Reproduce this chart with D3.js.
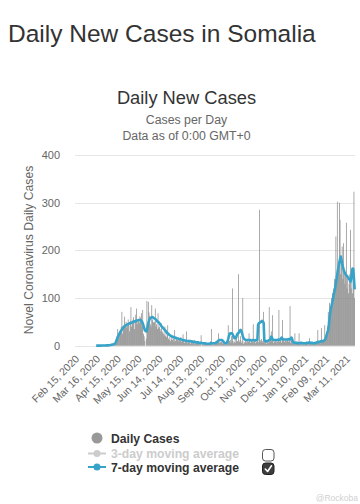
<!DOCTYPE html>
<html>
<head>
<meta charset="utf-8">
<script src="https://cdn.jsdelivr.net/npm/d3@7"></script>
<style>
  html, body { margin: 0; padding: 0; background: #fff; }
  svg { display: block; font-family: "Liberation Sans", Arial, Helvetica, sans-serif; }
</style>
</head>
<body>
<svg id="chart" width="360" height="504"></svg>
<script>
// ---------------- DATA ----------------
const startDate = new Date(2020, 1, 15);   // Feb 15, 2020 (first category)
const dayCount = 403;                      // Feb 15, 2020 .. Mar 23, 2021
const firstDataDay = 30;                   // Mar 16, 2020

const tickLabels = ["Feb 15, 2020","Mar 16, 2020","Apr 15, 2020","May 15, 2020","Jun 14, 2020",
  "Jul 14, 2020","Aug 13, 2020","Sep 12, 2020","Oct 12, 2020","Nov 11, 2020","Dec 11, 2020",
  "Jan 10, 2021","Feb 09, 2021","Mar 11, 2021"];
const tickEvery = 30;
const yTicks = [0, 100, 200, 300, 400];

// daily new cases, from Mar 16, 2020
const dailyCases = [
  1,0,0,0,0,0,0,0,0,0,
  0,2,0,0,1,0,0,1,0,2,
  1,3,0,2,3,0,5,6,12,15,
  20,35,18,25,30,28,40,71,25,35,
  38,61,45,50,38,42,55,48,30,52,
  81,40,46,55,60,35,50,65,78,45,
  50,55,48,62,58,68,40,75,25,20,
  10,0,15,94,45,92,70,62,45,40,
  85,55,50,48,50,78,40,45,35,68,
  38,40,35,30,47,28,30,25,22,40,
  20,18,25,43,15,12,18,10,14,20,
  12,15,8,33,10,14,18,12,9,15,
  12,10,18,8,14,24,10,6,12,8,
  30,5,8,10,12,6,4,9,10,5,
  7,12,3,5,8,6,4,10,2,5,
  3,22,0,4,6,2,5,3,8,4,
  3,5,6,2,4,10,35,3,6,2,
  5,4,3,8,8,10,26,6,9,7,
  8,12,5,4,6,3,2,5,10,4,
  43,8,10,12,6,20,120,10,5,8,
  12,6,18,10,9,150,8,12,20,6,
  10,100,4,8,6,12,9,5,14,8,
  26,10,6,12,8,9,45,7,10,5,
  12,8,10,6,9,285,12,8,14,10,
  6,71,8,5,12,4,9,10,6,81,
  8,12,30,10,64,6,14,8,10,12,
  6,9,12,75,8,10,14,6,54,10,
  12,8,10,14,9,12,16,8,10,83,
  6,10,5,8,4,6,26,3,5,7,
  4,6,26,3,5,4,8,2,6,5,
  3,7,4,6,5,8,2,16,5,4,
  6,3,8,5,4,7,6,9,5,33,
  6,8,10,5,37,9,12,8,14,43,
  18,25,30,40,71,55,90,80,75,100,
  110,95,120,140,130,229,150,302,160,170,
  300,264,150,170,208,140,215,160,130,150,
  258,120,140,110,130,150,243,120,150,110,
  140,323,100
];

// 7-day moving average, from Mar 16, 2020
const movingAvg7 = [
  0.1,0.1,0.1,0.1,0.1,0.1,0.1,0.1,0.3,0.3,
  0.3,0.3,0.4,0.4,0.6,0.6,0.6,0.7,0.9,1.1,
  1.3,1.6,1.9,2.3,2.6,3.0,3.6,4.0,6.5,10,
  14,18,21,24,27,29,32,34,36,38,
  40,41,42,43,44,45,45,46,47,47,
  48,48,49,50,50,51,51,52,52,53,
  53,54,54,54,53,52,50,47,42,37,
  33,31,30,32,40,47,52,56,58,59,
  60,60,59,58,57,56,55,53,51,50,
  49,47,45,43,41,39,38,36,34,33,
  31,29,27,26,25,23,22,21,20,19,
  19,18,18,17,17,16,16,15,15,14,
  14,14,13,13,12,12,12,11,11,11,
  10,10,10,10,10,10,9,9,9,8,
  8,8,8,7,7,7,7,6,6,6,
  6,6,6,5,5,5,5,5,4,4,
  4,4,4,4,5,5,5,5,5,5,
  5,5,6,7,8,9,11,12,12,12,
  12,12,11,9,7,5,5,5,6,9,
  14,20,25,26,26,26,25,22,19,16,
  15,16,20,24,26,27,29,32,33,31,
  26,20,16,14,13,12,12,12,12,12,
  12,12,12,11,11,12,12,12,11,11,
  12,12,12,44,47,48,49,50,51,52,
  50,48,12,10,9,9,10,10,11,12,
  12,15,19,17,13,12,12,12,12,12,
  12,12,13,13,12,13,15,17,15,13,
  13,13,13,13,13,13,13,14,13,13,
  15,17,14,8,7,6,6,6,6,6,
  6,5,5,5,6,6,6,5,5,5,
  5,5,5,6,6,6,6,7,6,6,
  6,6,5,5,5,6,6,6,7,8,
  8,8,8,9,9,10,10,10,11,12,
  14,19,24,29,33,45,60,72,80,85,
  92,100,108,115,122,131,140,150,159,167,
  175,182,187,180,172,166,160,156,152,150,
  148,146,144,142,140,138,134,140,155,162,
  161,140,118
];

const legendItems = ["Daily Cases", "3-day moving average", "7-day moving average"];

// ---------------- CHART ----------------
const svg = d3.select("#chart");
const plot = { left: 75, right: 355, top: 155, bottom: 345.7 };

const days = d3.range(dayCount);
const x = d3.scaleBand().domain(days).range([plot.left, plot.right]).padding(0);
const y = d3.scaleLinear().domain([0, 400]).range([plot.bottom, plot.top]);
const bw = x.bandwidth();

const dailyData = dailyCases.map((v, i) => ({ d: firstDataDay + i, v }));
const maData = movingAvg7.map((v, i) => ({ d: firstDataDay + i, v }));

// Titles
svg.append("text").attr("x", 8).attr("y", 42)
  .attr("font-size", 24.5).attr("fill", "#333").text("Daily New Cases in Somalia");
svg.append("text").attr("x", 186.5).attr("y", 103.5).attr("text-anchor", "middle")
  .attr("font-size", 18.3).attr("fill", "#333").text("Daily New Cases");
svg.append("text").attr("x", 186.5).attr("y", 124).attr("text-anchor", "middle")
  .attr("font-size", 12.3).attr("fill", "#666").text("Cases per Day");
svg.append("text").attr("x", 186.5).attr("y", 140).attr("text-anchor", "middle")
  .attr("font-size", 12.3).attr("fill", "#666").text("Data as of 0:00 GMT+0");

// Grid
svg.append("g").selectAll("line").data(yTicks).join("line")
  .attr("x1", plot.left).attr("x2", plot.right)
  .attr("y1", d => Math.round(y(d)) + 0.5).attr("y2", d => Math.round(y(d)) + 0.5)
  .attr("stroke", "#e6e6e6").attr("stroke-width", 1);

// Y labels
svg.append("g").selectAll("text").data(yTicks).join("text")
  .attr("x", 60).attr("y", d => y(d) + 4).attr("text-anchor", "end")
  .attr("font-size", 11).attr("fill", "#666").text(d => d);

// Y axis title
svg.append("text")
  .attr("transform", `translate(33,250) rotate(-90)`)
  .attr("text-anchor", "middle").attr("font-size", 12.2).attr("fill", "#666")
  .text("Novel Coronavirus Daily Cases");

// Bars
svg.append("g").selectAll("rect").data(dailyData).join("rect")
  .attr("x", d => x(d.d)).attr("width", bw)
  .attr("y", d => y(d.v)).attr("height", d => y(0) - y(d.v))
  .attr("fill", "#858585");

// 7-day line
const line = d3.line().x(d => x(d.d) + bw / 2).y(d => y(d.v));
svg.append("path").datum(maData).attr("d", line)
  .attr("fill", "none").attr("stroke", "#38a3c9").attr("stroke-width", 2.6)
  .attr("stroke-linejoin", "round");

// X labels
svg.append("g").selectAll("text").data(tickLabels).join("text")
  .attr("transform", (t, i) => `translate(${x(i * tickEvery) + bw / 2 + 2},${357}) rotate(-45)`)
  .attr("text-anchor", "end").attr("font-size", 10.5).attr("fill", "#666")
  .attr("dy", "0.35em").text(t => t);

// Legend
const lg = svg.append("g");
lg.append("circle").attr("cx", 97).attr("cy", 438).attr("r", 5.5).attr("fill", "#999");
lg.append("text").attr("x", 111).attr("y", 442.5).attr("font-size", 12.2).attr("font-weight", "bold")
  .attr("fill", "#333").text(legendItems[0]);

lg.append("line").attr("x1", 88).attr("x2", 106).attr("y1", 453.5).attr("y2", 453.5)
  .attr("stroke", "#cccccc").attr("stroke-width", 2);
lg.append("circle").attr("cx", 97).attr("cy", 453.5).attr("r", 3.5).attr("fill", "#cccccc");
lg.append("text").attr("x", 111).attr("y", 458).attr("font-size", 12.2).attr("font-weight", "bold")
  .attr("fill", "#cccccc").text(legendItems[1]);

lg.append("line").attr("x1", 88).attr("x2", 106).attr("y1", 467).attr("y2", 467)
  .attr("stroke", "#38a3c9").attr("stroke-width", 2);
lg.append("circle").attr("cx", 97).attr("cy", 467).attr("r", 3.5).attr("fill", "#38a3c9");
lg.append("text").attr("x", 111).attr("y", 471.5).attr("font-size", 12.2).attr("font-weight", "bold")
  .attr("fill", "#333").text(legendItems[2]);

// checkboxes
lg.append("rect").attr("x", 262.5).attr("y", 449.5).attr("width", 11.5).attr("height", 11.5).attr("rx", 3)
  .attr("fill", "#fff").attr("stroke", "#555").attr("stroke-width", 1);
lg.append("rect").attr("x", 262.5).attr("y", 463).attr("width", 11.5).attr("height", 11.5).attr("rx", 3)
  .attr("fill", "#3d3d3d").attr("stroke", "#222").attr("stroke-width", 1);
lg.append("path").attr("d", "M265.3,469 L267.6,471.5 L271.5,465.8")
  .attr("fill", "none").attr("stroke", "#fff").attr("stroke-width", 1.6)
  .attr("stroke-linecap", "round").attr("stroke-linejoin", "round");

// watermark
svg.append("text").attr("x", 358).attr("y", 501).attr("text-anchor", "end")
  .attr("font-size", 8.5).attr("fill", "#d0d0d0").text("@Rockoba");
</script>
</body>
</html>
